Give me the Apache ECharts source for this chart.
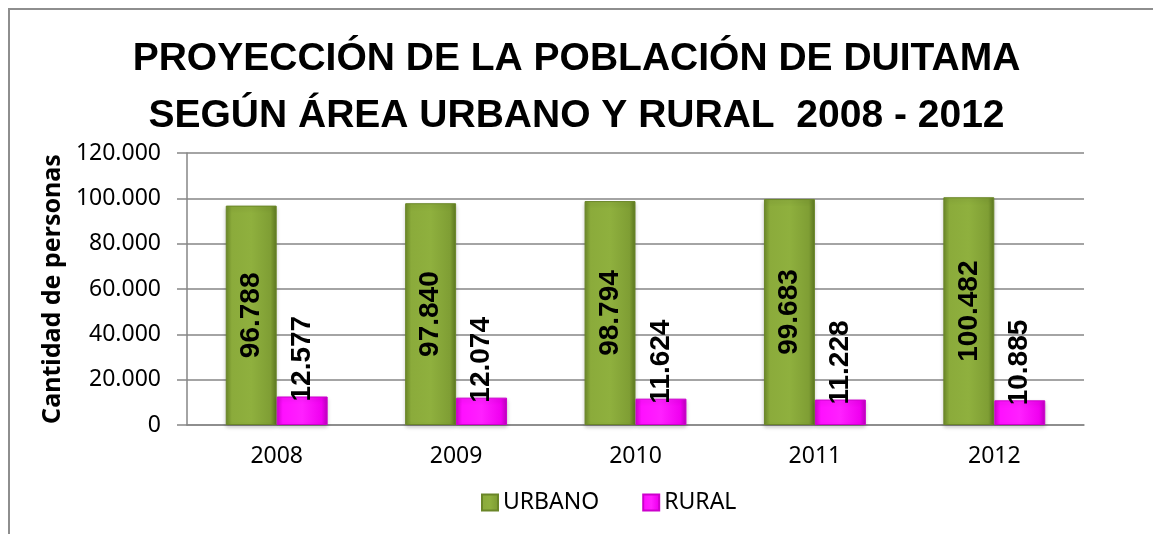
<!DOCTYPE html>
<html>
<head>
<meta charset="utf-8">
<script src="https://cdn.jsdelivr.net/npm/echarts@6/dist/echarts.min.js"></script>
<style>
  html, body { margin: 0; padding: 0; background: #fff; }
  #frame {
    position: absolute; left: 8px; top: 8px; width: 2000px; height: 2000px;
    border-top: 2px solid #8e8e8e; border-left: 2px solid #8e8e8e;
  }
  #chart { position: absolute; left: 0; top: 0; width: 1153px; height: 534px; }
</style>
</head>
<body>
<div id="frame"></div>
<div id="chart"></div>
<script>
// años del eje x
const years = ['2008', '2009', '2010', '2011', '2012'];
// poblacion por area
const urbano = [96788, 97840, 98794, 99683, 100482];
const rural = [12577, 12074, 11624, 11228, 10885];
// eje y
const yMax = 120000;
const yStep = 20000;

const boldFont = '"Liberation Sans", Arial, sans-serif';
const plain = '"Noto Sans", "Open Sans", sans-serif';

// separador de miles con punto
function miles(v) {
  return String(v).replace(/\B(?=(\d{3})+(?!\d))/g, '.');
}

const chart = echarts.init(document.getElementById('chart'));

chart.setOption({
  animation: false,
  title: {
    text: 'PROYECCIÓN DE LA POBLACIÓN DE DUITAMA\nSEGÚN ÁREA URBANO Y RURAL  2008 - 2012',
    left: 'center',
    top: 31,
    padding: 0,
    textStyle: {
      fontFamily: boldFont,
      fontWeight: 'bold',
      fontSize: 39,
      lineHeight: 57,
      color: '#000'
    }
  },
  legend: {
    left: 481,
    top: 491,
    padding: 0,
    itemWidth: 16,
    itemHeight: 16,
    itemGap: 43,
    icon: 'rect',
    textStyle: { fontFamily: plain, fontSize: 23, color: '#000' },
    data: ['URBANO', 'RURAL']
  },
  grid: {
    left: 187,
    right: 69,
    top: 153,
    bottom: 109,
    containLabel: false
  },
  xAxis: {
    type: 'category',
    data: years,
    axisLine: { lineStyle: { color: '#868686', width: 1.5 } },
    axisTick: { show: false },
    axisLabel: { fontFamily: plain, fontSize: 23, color: '#000', margin: 20 }
  },
  yAxis: {
    type: 'value',
    min: 0,
    max: yMax,
    interval: yStep,
    name: 'Cantidad de personas',
    nameLocation: 'middle',
    nameRotate: 90,
    nameGap: 122,
    nameTextStyle: { fontFamily: plain, fontWeight: 'bold', fontSize: 25, color: '#000' },
    axisLine: { show: true, lineStyle: { color: '#868686', width: 1.5 } },
    axisTick: { show: true, length: 10, lineStyle: { color: '#868686', width: 1.5 } },
    splitLine: { lineStyle: { color: '#868686', width: 1.5 } },
    axisLabel: {
      fontFamily: plain,
      fontSize: 23,
      color: '#000',
      margin: 26,
      formatter: miles
    }
  },
  series: [
    {
      name: 'URBANO',
      type: 'bar',
      data: urbano,
      barWidth: '28.4%',
      barGap: '0%',
      itemStyle: {
        color: new echarts.graphic.LinearGradient(0, 0, 1, 0, [
          { offset: 0, color: '#6d8a29' },
          { offset: 0.12, color: '#8bab3b' },
          { offset: 0.5, color: '#8fb03e' },
          { offset: 0.88, color: '#7f9e34' },
          { offset: 1, color: '#5e7a21' }
        ]),
        borderColor: '#6a8628',
        borderWidth: 1,
        shadowColor: 'rgba(0,0,0,0.2)',
        shadowBlur: 4,
        shadowOffsetY: 2
      },
      label: {
        show: true,
        position: 'inside',
        rotate: 90,
        fontFamily: boldFont,
        fontWeight: 'bold',
        fontSize: 28,
        color: '#000',
        formatter: p => miles(p.value)
      }
    },
    {
      name: 'RURAL',
      type: 'bar',
      data: rural,
      barWidth: '28.4%',
      itemStyle: {
        color: new echarts.graphic.LinearGradient(0, 0, 1, 0, [
          { offset: 0, color: '#d400d4' },
          { offset: 0.12, color: '#ff10ff' },
          { offset: 0.5, color: '#ff20ff' },
          { offset: 0.88, color: '#f000f0' },
          { offset: 1, color: '#c000c0' }
        ]),
        borderColor: '#cc00cc',
        borderWidth: 1,
        shadowColor: 'rgba(0,0,0,0.2)',
        shadowBlur: 4,
        shadowOffsetY: 2
      },
      label: {
        show: true,
        position: 'top',
        distance: -5,
        rotate: 90,
        align: 'left',
        verticalAlign: 'middle',
        fontFamily: boldFont,
        fontWeight: 'bold',
        fontSize: 28,
        color: '#000',
        formatter: p => miles(p.value)
      }
    }
  ]
});
</script>
</body>
</html>
